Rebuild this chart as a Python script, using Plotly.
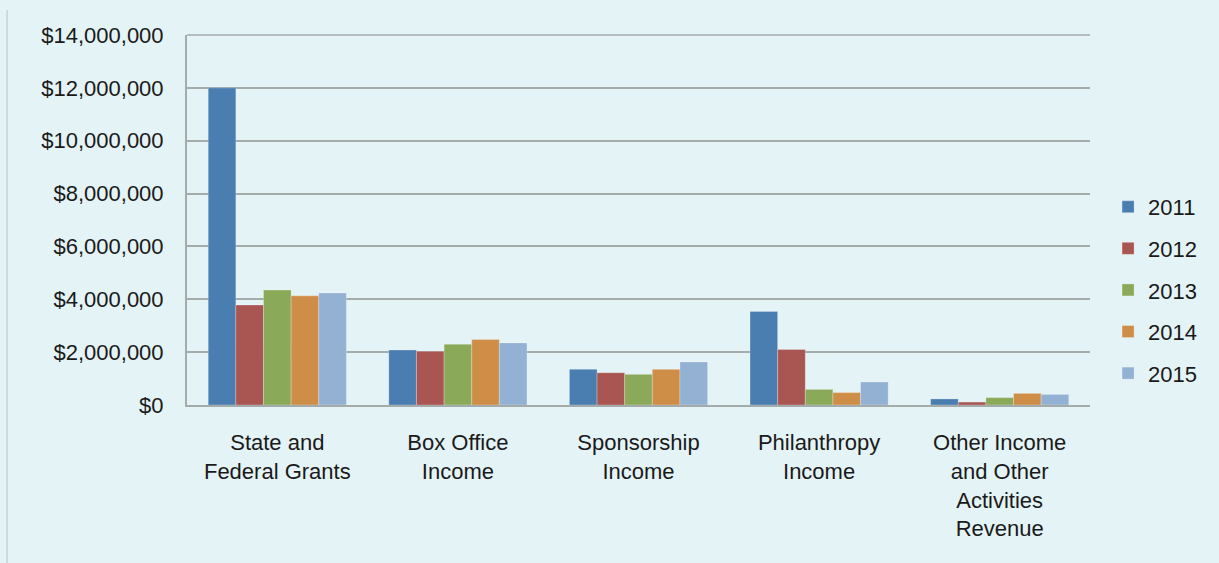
import plotly.graph_objects as go

categories = [
    "State and<br>Federal Grants",
    "Box Office<br>Income",
    "Sponsorship<br>Income",
    "Philanthropy<br>Income",
    "Other Income<br>and Other<br>Activities<br>Revenue",
]
years = ["2011", "2012", "2013", "2014", "2015"]

rev_2011 = [12000000, 2080000, 1350000, 3540000, 230000]
rev_2012 = [3780000, 2030000, 1220000, 2100000, 110000]
rev_2013 = [4350000, 2300000, 1160000, 590000, 280000]
rev_2014 = [4130000, 2480000, 1350000, 470000, 440000]
rev_2015 = [4240000, 2350000, 1630000, 870000, 400000]

series = [rev_2011, rev_2012, rev_2013, rev_2014, rev_2015]
colors = ["#4A7EB1", "#A95552", "#8AAA5A", "#CF8E48", "#93B1D3"]

y_ticks = [0, 2000000, 4000000, 6000000, 8000000, 10000000, 12000000, 14000000]
y_tick_labels = ["$0", "$2,000,000", "$4,000,000", "$6,000,000", "$8,000,000",
                 "$10,000,000", "$12,000,000", "$14,000,000"]

font = "Liberation Sans, Arial, sans-serif"
bg = "#E4F3F6"

fig = go.Figure()
for year, vals, col in zip(years, series, colors):
    fig.add_trace(go.Bar(
        x=categories, y=vals, name=year, legendgroup=year,
        marker=dict(color=col, line=dict(color="rgba(255,255,255,0.25)", width=1)),
    ))

fig.update_layout(
    width=1219, height=563,
    margin=dict(l=187, r=129, t=35, b=158),
    paper_bgcolor=bg, plot_bgcolor=bg,
    barmode="group", bargap=0.235, bargroupgap=0,
    font=dict(family=font, size=22, color="#1a1a1a"),
    legend=dict(
        x=1.02, y=0.311, xanchor="left", yanchor="middle",
        tracegroupgap=10, itemwidth=30,
        font=dict(size=22),
        bgcolor="rgba(0,0,0,0)",
    ),
    xaxis=dict(
        showline=True, linecolor="#A3ABAB", linewidth=2,
        ticks="", ticklabelstandoff=17,
        tickfont=dict(size=22),
    ),
    yaxis=dict(
        range=[0, 14000000],
        tickvals=y_ticks, ticktext=y_tick_labels,
        showgrid=True, gridcolor="#A3ABAB", gridwidth=1.5,
        showline=True, linecolor="#A3ABAB", linewidth=2,
        zeroline=False, ticks="", ticklabelstandoff=17,
        tickfont=dict(size=22),
    ),
    shapes=[
        dict(type="line", xref="paper", yref="paper",
             x0=-0.1993, x1=-0.1993, y0=1.0676, y1=-0.43,
             line=dict(color="#B8C4C6", width=1)),
        dict(type="line", xref="paper", yref="paper",
             x0=0, x1=1, y0=1, y1=1,
             line=dict(color="#A3ABAB", width=1.5)),
    ],
)

fig.write_html("out.html")
